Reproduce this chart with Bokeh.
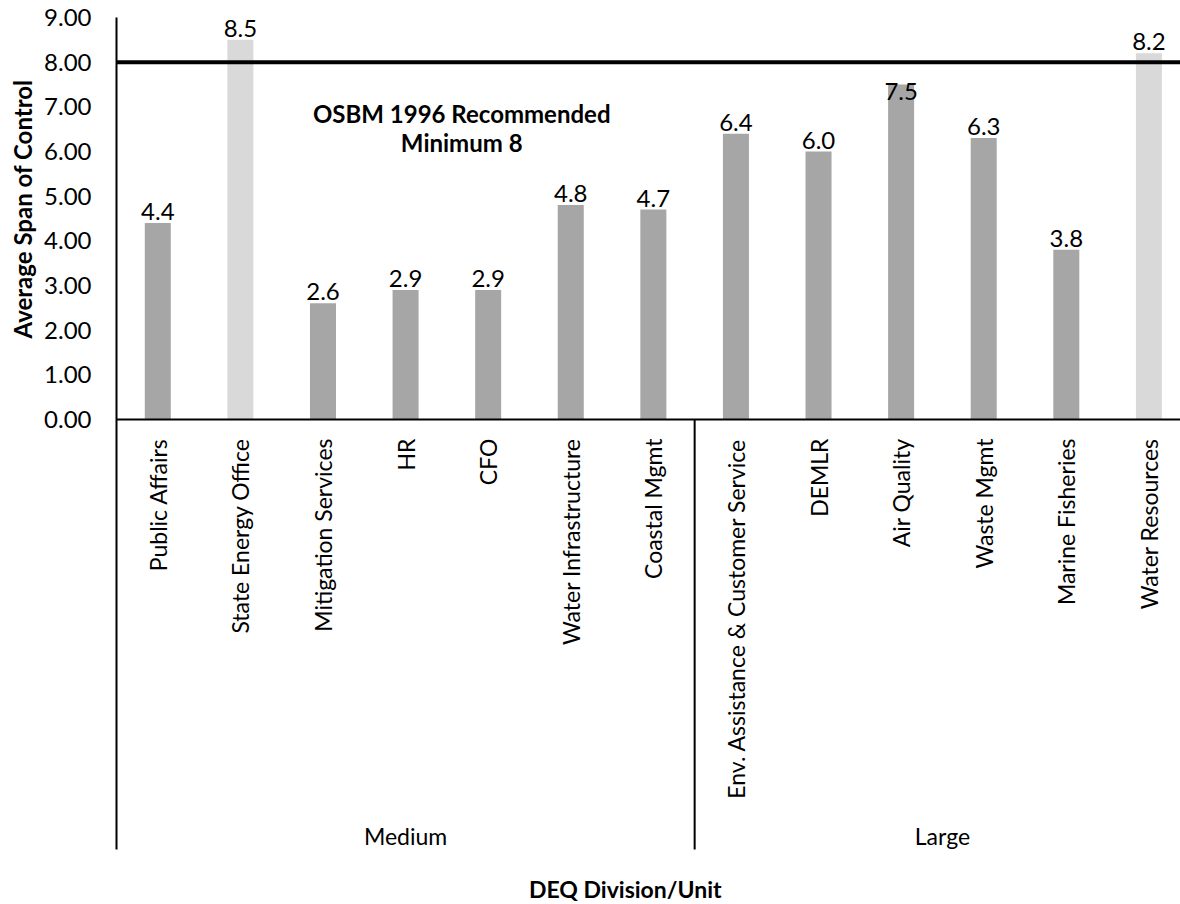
import math

from bokeh.core.properties import value
from bokeh.embed import file_html
from bokeh.models import FixedTicker, NumeralTickFormatter, Range1d, Span, Title
from bokeh.plotting import figure
from bokeh.resources import INLINE

# --- data -------------------------------------------------------------------
divisions = [
    "Public Affairs", "State Energy Office", "Mitigation Services", "HR", "CFO",
    "Water Infrastructure", "Coastal Mgmt", "Env. Assistance & Customer Service",
    "DEMLR", "Air Quality", "Waste Mgmt", "Marine Fisheries", "Water Resources",
]
size_group = ["Medium"] * 7 + ["Large"] * 6
avg_span = [4.4, 8.5, 2.6, 2.9, 2.9, 4.8, 4.7, 6.4, 6.0, 7.5, 6.3, 3.8, 8.2]
y_ticks = [0, 1, 2, 3, 4, 5, 6, 7, 8, 9]
recommended_min = 8

# --- layout -----------------------------------------------------------------
W, H = 1180, 904
LEFT, TOP = 115, 17
PX_Y = 402 / 9          # pixels per unit of span
PX_X = 82.67            # pixels per division slot
FONT = "Lato"
TXT = "23px"

y_top = max(y_ticks)
y_lo = y_top - (H - TOP) / PX_Y
x_lo = -0.5
x_hi = x_lo + (W - LEFT) / PX_X
box_bottom = -(849 - 419) / PX_Y


def dy(px):
    return px / PX_Y


p = figure(
    width=W, height=H,
    x_range=Range1d(x_lo, x_hi), y_range=Range1d(y_lo, y_top),
    output_backend="svg", toolbar_location=None, x_axis_location=None,
    min_border_left=LEFT, min_border_right=0, min_border_top=TOP, min_border_bottom=0,
)
p.outline_line_color = None
p.grid.visible = False
p.background_fill_color = "white"

# y axis
ax = p.yaxis[0]
ax.ticker = FixedTicker(ticks=y_ticks)
ax.formatter = NumeralTickFormatter(format="0.00")
ax.bounds = (box_bottom, y_top)
ax.axis_line_width = 2
ax.axis_line_color = "black"
ax.major_tick_line_color = None
ax.minor_tick_line_color = None
ax.major_tick_out = 0
ax.major_label_standoff = 25
ax.major_label_text_font = FONT
ax.major_label_text_font_size = "24px"
ax.major_label_text_color = "black"

# y axis title, kept level with the 0-9 value range
p.add_layout(Title(
    text="Average Span of Control", align="right", offset=62,
    text_font=FONT, text_font_style="bold", text_font_size="24px", text_color="black",
), "left")

idx = list(range(len(divisions)))
colors = ["#D9D9D9" if v >= recommended_min else "#A6A6A6" for v in avg_span]

# bars
p.vbar(x=idx, top=avg_span, bottom=0, width=0.315, fill_color=colors, line_color=None)

# baseline and recommended-minimum reference line
p.add_layout(Span(location=0, dimension="width", line_color="black", line_width=2))
p.add_layout(Span(location=recommended_min, dimension="width", line_color="black", line_width=4))

# value labels (tucked under the reference line when they would cross it)
label_y = [v - dy(15) if recommended_min - 0.6 < v < recommended_min else v + dy(3)
           for v in avg_span]
p.text(x=idx, y=label_y, text=[f"{v:.1f}" for v in avg_span],
       text_align="center", text_baseline="bottom",
       text_font=value(FONT), text_font_size=value("24px"), text_color="black")

# rotated division names
p.text(x=idx, y=[-dy(19)] * len(idx), text=divisions, angle=math.pi / 2,
       text_align="right", text_baseline="middle",
       text_font=value(FONT), text_font_size=value(TXT), text_color="black")

# group separators and group names
groups = list(dict.fromkeys(size_group))
seps = [i - 0.5 for i in range(1, len(size_group)) if size_group[i] != size_group[i - 1]]
p.segment(x0=seps, y0=[0] * len(seps), x1=seps, y1=[box_bottom] * len(seps),
          line_color="black", line_width=2)
gx = [sum(i for i, g in enumerate(size_group) if g == grp) / size_group.count(grp) for grp in groups]
p.text(x=gx, y=[-dy(835 - 419)] * len(groups), text=groups,
       text_align="center", text_baseline="middle",
       text_font=value(FONT), text_font_size=value(TXT), text_color="black")

# x axis title
p.text(x=[5.66], y=[-dy(888 - 419)], text=["DEQ Division/Unit"],
       text_align="center", text_baseline="middle",
       text_font=value(FONT), text_font_style="bold", text_font_size=value("23px"),
       text_color="black")

# annotation for the reference line
p.text(x=[3.68, 3.68], y=[dy(419 - 113), dy(419 - 142)],
       text=["OSBM 1996 Recommended", "Minimum 8"],
       text_align="center", text_baseline="middle",
       text_font=value(FONT), text_font_style="bold", text_font_size=value("24px"),
       text_color="black")

open("out.html", "w").write(file_html(p, INLINE))
